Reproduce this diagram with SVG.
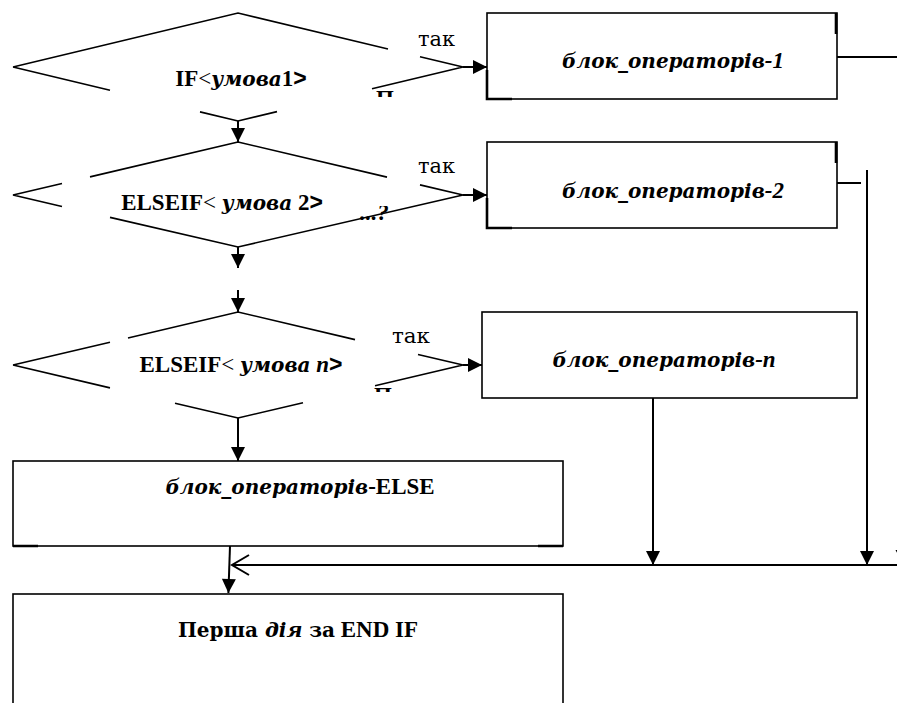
<svg xmlns="http://www.w3.org/2000/svg" width="897" height="703" viewBox="0 0 897 703">
  <defs>
    <style>
      .ln{stroke:#000;stroke-width:1.6;fill:none}
      .edge{stroke:#000;stroke-width:2.6;fill:none}
      .box{stroke:#000;stroke-width:1.6;fill:#fff}
      .cn{stroke:#000;stroke-width:2;fill:none}
      .lbl{font-family:"Liberation Serif","Times New Roman",serif;font-size:23px;font-weight:bold;fill:#000}
      .cy{font-family:"DejaVu Serif",serif;font-size:20px}
      .it{font-style:italic}
      .gt{font-family:"Liberation Sans",Arial,sans-serif;font-weight:bold}
      .thin{font-weight:normal}
      .yes{font-family:"DejaVu Serif",serif;font-size:20px;fill:#000}
    </style>
    <marker id="head" markerUnits="userSpaceOnUse" markerWidth="16" markerHeight="16" viewBox="0 0 16 16" refX="15" refY="8" orient="auto">
      <path d="M1,1 L15,8 L1,15 z" fill="#000"/>
    </marker>
    <marker id="open" markerUnits="userSpaceOnUse" markerWidth="20" markerHeight="22" viewBox="0 0 20 22" refX="18" refY="11" orient="auto">
      <path d="M1,1 L18,11 L1,21" fill="none" stroke="#000" stroke-width="2"/>
    </marker>
    <clipPath id="frag1"><rect x="374" y="84" width="22" height="13"/></clipPath>
    <clipPath id="frag2"><rect x="358" y="206" width="34" height="14"/></clipPath>
    <clipPath id="frag3"><rect x="372" y="382" width="22" height="10"/></clipPath>
  </defs>

  <rect width="897" height="703" fill="#fff"/>

  <!-- decision: IF -->
  <g id="cond1">
    <path class="ln" d="M13,67 L238,13 L388,49 M420,56.7 L463,67 M13,67 L110,90.3 M372,88.8 L463,67 M200,111.9 L238,121 L277,111.6"/>
    <text class="lbl" x="241" y="86" text-anchor="middle">IF<tspan class="thin">&lt;</tspan><tspan class="it cy">умова</tspan>1<tspan class="gt">&gt;</tspan></text>
    <text class="lbl" x="376" y="106" clip-path="url(#frag1)">П</text>
    <text class="yes" x="418" y="46" textLength="37" lengthAdjust="spacingAndGlyphs">так</text>
  </g>

  <!-- decision: ELSEIF 2 -->
  <g id="cond2">
    <path class="ln" d="M238,142 L90,176.9 M62,183.5 L13,195 L62,206.5 M110,217.4 L238,247 L463,195 M238,142 L387,177.1 M420,184.9 L463,195"/>
    <text class="lbl" x="222" y="210" text-anchor="middle">ELSEIF<tspan class="thin">&lt;</tspan> <tspan class="it cy">умова</tspan> 2<tspan class="gt">&gt;</tspan></text>
    <text class="lbl it" x="360" y="220" clip-path="url(#frag2)">...?</text>
    <text class="yes" x="418" y="173" textLength="37" lengthAdjust="spacingAndGlyphs">так</text>
  </g>

  <!-- decision: ELSEIF n -->
  <g id="cond3">
    <path class="ln" d="M13,365 L110,342.2 M128,338 L238,312 L355,339.6 M418,354.5 L463,365 M13,365 L110,387.9 M175,403.2 L238,418 L303,402.7 M375,385.7 L463,365"/>
    <text class="lbl" x="241" y="372" text-anchor="middle">ELSEIF<tspan class="thin">&lt;</tspan> <tspan class="it cy">умова</tspan> <tspan class="it">n</tspan><tspan class="gt">&gt;</tspan></text>
    <text class="lbl" x="374" y="403" clip-path="url(#frag3)">П</text>
    <text class="yes" x="392" y="343" textLength="38" lengthAdjust="spacingAndGlyphs">так</text>
  </g>

  <!-- statement blocks -->
  <g id="block1">
    <rect class="box" x="487" y="13" width="350" height="86"/>
    <path class="edge" d="M836,13 V34 M487,70 V99 H512"/>
    <text class="lbl it" x="673" y="68" text-anchor="middle"><tspan class="cy">блок_операторів</tspan>-1</text>
  </g>
  <g id="block2">
    <rect class="box" x="487" y="142" width="350" height="86"/>
    <path class="edge" d="M836,142 V163 M487,198 V228 H512"/>
    <text class="lbl it" x="673" y="198" text-anchor="middle"><tspan class="cy">блок_операторів</tspan>-2</text>
  </g>
  <g id="blockN">
    <rect class="box" x="482" y="312" width="375" height="86"/>
    <text class="lbl it" x="664" y="367" text-anchor="middle"><tspan class="cy">блок_операторів</tspan>-n</text>
  </g>
  <g id="blockElse">
    <rect class="box" x="13" y="461" width="550" height="85"/>
    <path class="edge" d="M13,546 H38 M538,546 H563"/>
    <text class="lbl" x="300" y="494" text-anchor="middle"><tspan class="it cy">блок_операторів</tspan>-ELSE</text>
  </g>
  <g id="afterEndIf">
    <rect class="box" x="13" y="594" width="550" height="130"/>
    <text class="lbl" x="298" y="637" text-anchor="middle"><tspan class="cy">Перша </tspan><tspan class="it cy">дія</tspan><tspan class="cy"> за</tspan> END IF</text>
  </g>

  <!-- connectors -->
  <g id="connectors">
    <path class="cn" d="M238,121 V142" marker-end="url(#head)"/>
    <path class="cn" d="M238,247 V268" marker-end="url(#head)"/>
    <path class="cn" d="M238,290 V312" marker-end="url(#head)"/>
    <path class="cn" d="M238,418 V461" marker-end="url(#head)"/>
    <path class="cn" d="M463,67 H487" marker-end="url(#head)"/>
    <path class="cn" d="M463,195 H487" marker-end="url(#head)"/>
    <path class="cn" d="M463,365 H482" marker-end="url(#head)"/>
    <path class="cn" d="M837,57 H897"/>
    <path class="cn" d="M837,183 H861"/>
    <path class="cn" d="M867,170 V565" marker-end="url(#head)"/>
    <path class="cn" d="M653,398 V565" marker-end="url(#head)"/>
    <polygon points="895.5,550 910.5,550 903,564" fill="#000"/>
    <path class="cn" d="M897,565 H232" marker-end="url(#open)"/>
    <path class="cn" d="M230,546 L228.4,593" marker-end="url(#head)"/>
  </g>
</svg>
